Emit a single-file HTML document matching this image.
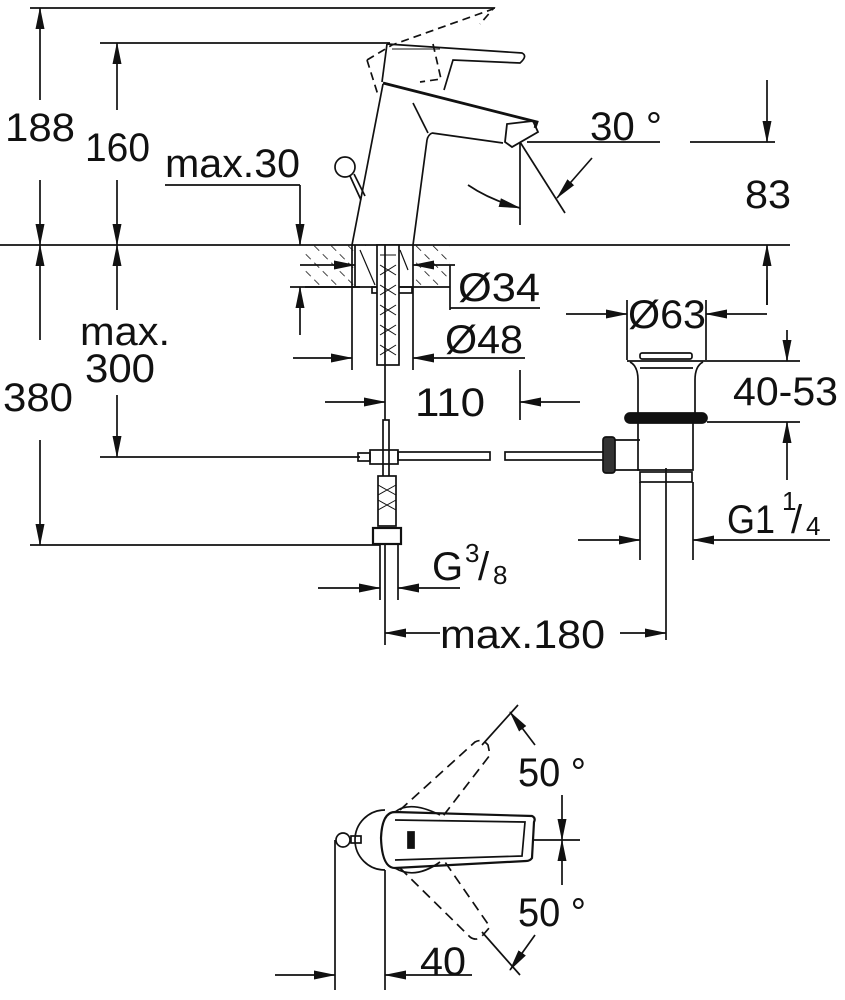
<!DOCTYPE html>
<html><head><meta charset="utf-8"><style>
html,body{margin:0;padding:0;background:#fff;}
svg{display:block}
text{font-family:"Liberation Sans",Arial,sans-serif;fill:#111;}
</style></head><body>
<svg width="845" height="1000" viewBox="0 0 845 1000" xmlns="http://www.w3.org/2000/svg">
<defs>
<pattern id="h" width="12" height="12" patternUnits="userSpaceOnUse" patternTransform="rotate(-45)">
<line x1="0" y1="0" x2="0" y2="12" stroke="#111" stroke-width="1.6" stroke-dasharray="7 5"/>
</pattern>
<marker id="a" viewBox="0 0 22 10" refX="21" refY="5" markerWidth="22" markerHeight="10" markerUnits="userSpaceOnUse" orient="auto">
<path d="M0,0.5 L22,5 L0,9.5 z" fill="#111"/>
</marker>
</defs>
<g stroke="#111" stroke-width="1.7" fill="none">
<line x1="30" y1="8" x2="495" y2="8"/>
<line x1="100" y1="43" x2="390" y2="43"/>
<line x1="0" y1="245" x2="790" y2="245"/>
<line x1="30" y1="545" x2="380" y2="545"/>
<line x1="100" y1="457" x2="360" y2="457"/>
<line x1="40" y1="100" x2="40" y2="8" marker-end="url(#a)"/>
<line x1="40" y1="180" x2="40" y2="245" marker-end="url(#a)"/>
<line x1="40" y1="340" x2="40" y2="245" marker-end="url(#a)"/>
<line x1="40" y1="440" x2="40" y2="545" marker-end="url(#a)"/>
<line x1="117" y1="110" x2="117" y2="43" marker-end="url(#a)"/>
<line x1="117" y1="180" x2="117" y2="245" marker-end="url(#a)"/>
<line x1="117" y1="310" x2="117" y2="245" marker-end="url(#a)"/>
<line x1="117" y1="395" x2="117" y2="457" marker-end="url(#a)"/>
<line x1="165" y1="185" x2="300" y2="185"/>
<line x1="300" y1="185" x2="300" y2="245" marker-end="url(#a)"/>
<line x1="300" y1="335" x2="300" y2="287" marker-end="url(#a)"/>
<line x1="290" y1="287" x2="360" y2="287"/>
<path d="M383,84 L352,245 M427,140 L413,245"/>
<path d="M383,83 L537,122 L535,128" stroke-width="2.8"/>
<path d="M432,133 L503,143"/>
<path d="M432,133 Q428,135 427,140"/>
<path d="M413,103 L428,133"/>
<path d="M507,124 L533,121 L538,132 L512,147 L505,142 Z" stroke-width="1.8"/>
<path d="M387,44 L522,53 Q528,56 520,63 L453,60 L444,90"/>
<path d="M387,44 L382,82"/>
<path d="M392,49 L440,49" stroke-width="1"/>
<path d="M367,60 L378,95 M367,60 L392,45 L493,9 L480,24 M433,44 L441,79 L420,82" stroke-dasharray="8 5"/>
<circle cx="345" cy="167" r="10"/>
<path d="M350,176 L361,200 M354,174 L365,196"/>
<line x1="520" y1="143" x2="520" y2="225"/>
<line x1="520" y1="142" x2="565" y2="213"/>
<line x1="527" y1="142" x2="660" y2="142"/>
<line x1="690" y1="142" x2="775" y2="142"/>
<path d="M468,185 Q490,200 520,208" marker-end="url(#a)"/>
<path d="M592,158 L557,198" marker-end="url(#a)"/>
<line x1="767" y1="80" x2="767" y2="142" marker-end="url(#a)"/>
<line x1="767" y1="305" x2="767" y2="245" marker-end="url(#a)"/>
<rect x="305" y="245" width="145" height="42" fill="url(#h)" stroke="none"/>
<rect x="355" y="246" width="58" height="40" fill="#fff" stroke="none"/>
<line x1="305" y1="287" x2="450" y2="287"/>
<line x1="355" y1="245" x2="355" y2="287"/>
<line x1="413" y1="245" x2="413" y2="287"/>
<path d="M360,250 L375,285 M400,250 L408,270" stroke-width="1.2"/>
<rect x="372" y="287" width="40" height="6"/>
<rect x="377" y="245" width="22" height="120" fill="#fff"/>
<path d="M380,255 L396,255 M380,265 L396,275 M396,265 L380,275 M380,285 L396,295 M396,285 L380,295 M380,305 L396,315 M396,305 L380,315 M380,325 L396,335 M396,325 L380,335 M380,345 L396,355 M396,345 L380,355" stroke-width="1"/>
<line x1="300" y1="265" x2="355" y2="265" marker-end="url(#a)"/>
<line x1="455" y1="265" x2="413" y2="265" marker-end="url(#a)"/>
<line x1="450" y1="265" x2="450" y2="310"/>
<line x1="450" y1="308" x2="540" y2="308"/>
<line x1="352" y1="245" x2="352" y2="370"/>
<line x1="413" y1="287" x2="413" y2="370"/>
<line x1="293" y1="358" x2="352" y2="358" marker-end="url(#a)"/>
<line x1="525" y1="358" x2="413" y2="358" marker-end="url(#a)"/>
<line x1="385" y1="245" x2="385" y2="420"/>
<line x1="325" y1="402" x2="385" y2="402" marker-end="url(#a)"/>
<line x1="520" y1="370" x2="520" y2="420"/>
<line x1="580" y1="402" x2="520" y2="402" marker-end="url(#a)"/>
<rect x="383" y="420" width="6" height="60"/>
<rect x="358" y="453" width="12" height="8"/>
<rect x="370" y="450" width="28" height="14"/>
<rect x="398" y="452" width="92" height="8"/>
<rect x="505" y="452" width="100" height="8"/>
<rect x="378" y="476" width="18" height="50" fill="#fff"/>
<path d="M378,485 L396,495 M396,485 L378,495 M378,500 L396,510 M396,500 L378,510" stroke-width="1"/>
<rect x="373" y="528" width="28" height="16" stroke-width="2.2"/>
<line x1="380" y1="545" x2="380" y2="600"/>
<line x1="398" y1="545" x2="398" y2="600"/>
<line x1="385" y1="545" x2="385" y2="645"/>
<line x1="318" y1="588" x2="380" y2="588" marker-end="url(#a)"/>
<line x1="460" y1="588" x2="398" y2="588" marker-end="url(#a)"/>
<line x1="440" y1="633" x2="385" y2="633" marker-end="url(#a)"/>
<line x1="620" y1="633" x2="666" y2="633" marker-end="url(#a)"/>
<line x1="627" y1="300" x2="627" y2="360"/>
<line x1="706" y1="300" x2="706" y2="360"/>
<line x1="566" y1="314" x2="627" y2="314" marker-end="url(#a)"/>
<line x1="767" y1="314" x2="706" y2="314" marker-end="url(#a)"/>
<line x1="767" y1="280" x2="767" y2="305"/>
<rect x="640" y="353" width="52" height="6" rx="2"/>
<line x1="627" y1="361" x2="800" y2="361"/>
<path d="M630,362 Q638,366 638,380 L638,413 M703,362 Q695,366 695,380 L695,413"/>
<line x1="640" y1="368" x2="693" y2="368"/>
<rect x="625" y="413" width="82" height="10" rx="5" fill="#111"/>
<line x1="707" y1="422" x2="800" y2="422"/>
<line x1="787" y1="330" x2="787" y2="361" marker-end="url(#a)"/>
<line x1="787" y1="480" x2="787" y2="422" marker-end="url(#a)"/>
<path d="M638,423 L638,470 L693,470 L693,423"/>
<path d="M640,440 L612,440 L612,470 L640,470"/>
<rect x="603" y="437" width="12" height="36" rx="3" fill="#333"/>
<rect x="640" y="472" width="52" height="10"/>
<line x1="640" y1="482" x2="640" y2="560"/>
<line x1="693" y1="482" x2="693" y2="560"/>
<line x1="666" y1="468" x2="666" y2="640"/>
<line x1="578" y1="540" x2="640" y2="540" marker-end="url(#a)"/>
<line x1="830" y1="540" x2="693" y2="540" marker-end="url(#a)"/>
<circle cx="343" cy="840" r="7"/>
<rect x="351" y="836" width="10" height="7"/>
<path d="M385,810 A30,30 0 1 0 385,870"/>
<path d="M395,812 L532,816 Q536,818 534,822 L532,858 Q530,861 526,861 L395,868 Q382,868 381,838 Q382,812 395,812 Z" stroke-width="2.2"/>
<path d="M395,820 L525,822 L522,856 L395,860"/>
<path d="M408,832 L414,832 L414,848 L408,848 Z" fill="#111"/>
<path d="M395,812 Q410,800 440,815"/>
<path d="M395,868 Q415,880 440,862"/>
<g stroke-dasharray="10 6">
<path d="M400,810 L475,742 Q482,738 488,745 L490,755 L440,820"/>
<path d="M400,868 L470,937 Q477,942 483,935 L490,927 L445,862"/>
</g>
<line x1="482" y1="745" x2="518" y2="705"/>
<line x1="482" y1="932" x2="520" y2="975"/>
<line x1="533" y1="840" x2="580" y2="840"/>
<path d="M535,745 L510,712" marker-end="url(#a)"/>
<path d="M562,795 L562,840" marker-end="url(#a)"/>
<path d="M562,885 L562,840" marker-end="url(#a)"/>
<path d="M535,935 L510,970" marker-end="url(#a)"/>
<line x1="335" y1="840" x2="335" y2="990"/>
<line x1="385" y1="870" x2="385" y2="990"/>
<line x1="275" y1="975" x2="335" y2="975" marker-end="url(#a)"/>
<line x1="472" y1="975" x2="385" y2="975" marker-end="url(#a)"/>
</g>
<g font-size="40">
<text x="5" y="141" textLength="70" lengthAdjust="spacingAndGlyphs">188</text>
<text x="85" y="161" textLength="65" lengthAdjust="spacingAndGlyphs">160</text>
<text x="165" y="177" textLength="135" lengthAdjust="spacingAndGlyphs">max.30</text>
<text x="590" y="140" textLength="72" lengthAdjust="spacingAndGlyphs">30 °</text>
<text x="745" y="208" textLength="46" lengthAdjust="spacingAndGlyphs">83</text>
<text x="458" y="301" textLength="82" lengthAdjust="spacingAndGlyphs">Ø34</text>
<text x="628" y="328" textLength="78" lengthAdjust="spacingAndGlyphs">Ø63</text>
<text x="445" y="353" textLength="78" lengthAdjust="spacingAndGlyphs">Ø48</text>
<text x="80" y="345" textLength="90" lengthAdjust="spacingAndGlyphs">max.</text>
<text x="85" y="382" textLength="70" lengthAdjust="spacingAndGlyphs">300</text>
<text x="3" y="411" textLength="70" lengthAdjust="spacingAndGlyphs">380</text>
<text x="415" y="416" textLength="70" lengthAdjust="spacingAndGlyphs">110</text>
<text x="733" y="405" textLength="105" lengthAdjust="spacingAndGlyphs">40-53</text>
<text x="727" y="533" textLength="48" lengthAdjust="spacingAndGlyphs">G1</text><text x="782" y="510" font-size="26">1</text><text x="791" y="533">/</text><text x="806" y="535" font-size="26">4</text>
<text x="432" y="580">G</text><text x="465" y="562" font-size="26">3</text><text x="478" y="580">/</text><text x="493" y="584" font-size="26">8</text>
<text x="440" y="648" textLength="165" lengthAdjust="spacingAndGlyphs">max.180</text>
<text x="518" y="786" textLength="68" lengthAdjust="spacingAndGlyphs">50 °</text>
<text x="518" y="926" textLength="68" lengthAdjust="spacingAndGlyphs">50 °</text>
<text x="420" y="975" textLength="46" lengthAdjust="spacingAndGlyphs">40</text>
</g>
</svg>
</body></html>
